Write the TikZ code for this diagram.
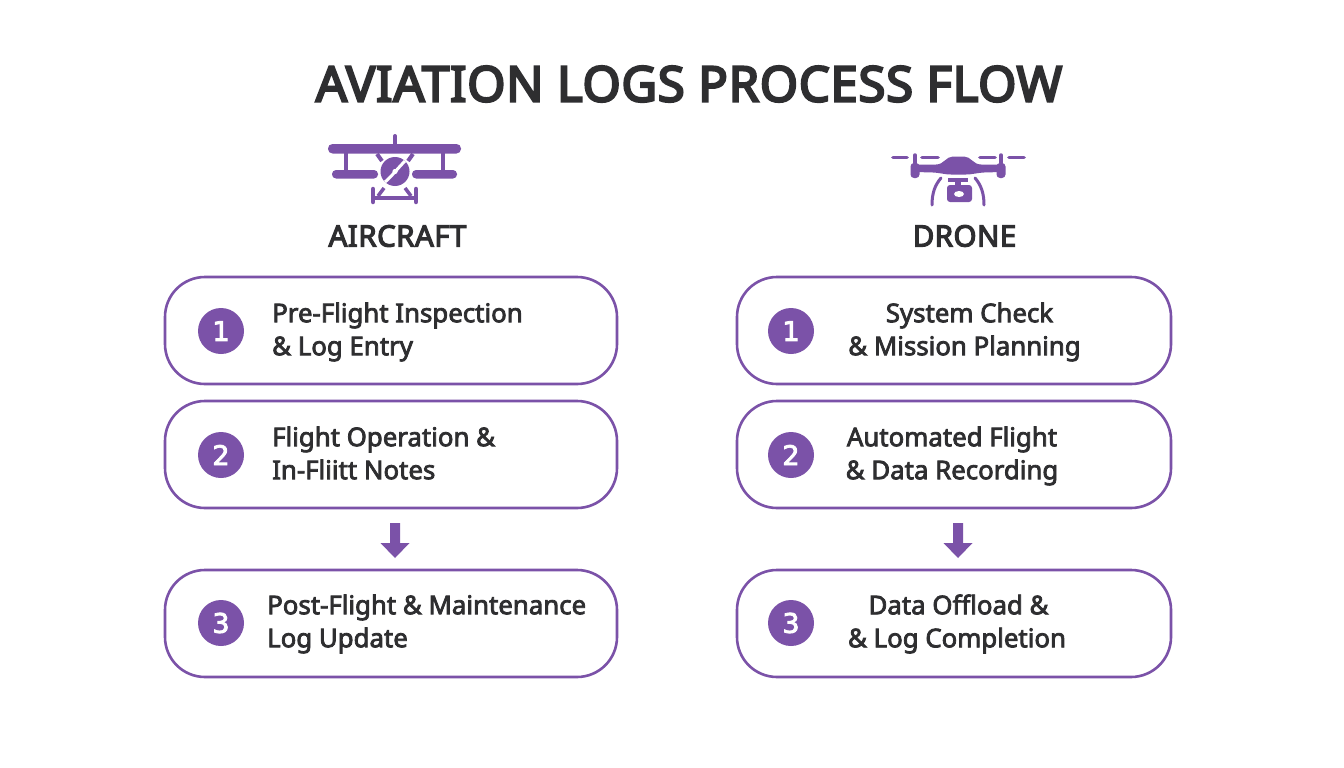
\documentclass[tikz,border=0pt]{standalone}
\usepackage{fontspec}
\setmainfont{Open Sans}
\newfontfamily\bodyf{Noto Sans}[FakeBold=3]
\newfontfamily\headf{Noto Sans}[FakeBold=4,LetterSpace=1.5]
\newfontfamily\titlef{Noto Sans}[FakeBold=4.5,LetterSpace=1.5]
\newfontfamily\digitf{DejaVu Sans}[FakeBold=3]
\definecolor{vio}{HTML}{7B52A8}
\definecolor{ink}{HTML}{2E2E30}
\tikzset{
 card/.style={draw=vio,line width=2.6pt,rounded corners=40pt,fill=white,minimum height=107pt,inner sep=0pt},
 badge/.style={circle,fill=vio,text=white,minimum size=46pt,inner sep=0pt,font=\digitf\fontsize{27}{27}\selectfont},
 lbl/.style={text=ink,inner sep=0pt,font=\bodyf\fontsize{25.8}{33}\selectfont},
 lbll/.style={lbl,align=left,anchor=west},
 lblc/.style={lbl,align=center},
 head/.style={text=ink,inner sep=0pt,font=\headf\fontsize{29.5}{28}\selectfont},
 ic/.style={draw=vio,line cap=round,line width=#1},
 ic/.default=3pt,
 blockarrow/.style={fill=vio,draw=none},
}
\begin{document}
\begin{tikzpicture}[x=1pt,y=-1pt]
\useasboundingbox (0,0) rectangle (1344,768);
\fill[white] (0,0) rectangle (1344,768);
\node[text=ink,inner sep=0pt,font=\titlef\fontsize{49}{49}\selectfont] (title) at (689,84) {AVIATION LOGS PROCESS FLOW};
% biplane icon
\draw[ic=4pt] (395,136) -- (395,146);
\fill[vio,rounded corners=4.5pt] (328,144) rectangle (461,153.5);
\fill[vio,rounded corners=4pt] (332,170) rectangle (378,178.5);
\fill[vio,rounded corners=4pt] (412,170) rectangle (457,178.5);
\draw[ic=3.5pt,line cap=butt] (346,153) -- (346,171);
\draw[ic=3.5pt,line cap=butt] (443,153) -- (443,171);
\draw[ic=4pt,line cap=butt] (377,154) -- (382,161);
\draw[ic=4pt,line cap=butt] (413,154) -- (408,161);
\fill[vio] (395,171.5) circle (14.5);
\draw[white,line width=3pt] (385,182) .. controls (392,176) and (398,168) .. (405,161);
\fill[white] (395,171.5) circle (2.6);
\draw[ic=4.5pt] (373,189) -- (373,202);
\draw[ic=4.5pt] (416,189) -- (416,202);
\draw[ic=3.5pt,line cap=butt] (373,198) -- (416,198);
\draw[ic=3.5pt,line cap=butt] (378,196) -- (384,188);
\draw[ic=3.5pt,line cap=butt] (411,196) -- (405,188);
\node[head] (hl) at (397.5,236) {AIRCRAFT};
% drone icon
\draw[ic=3.8pt] (893,157.5) -- (907,157.5);
\draw[ic=3.8pt] (922,157.5) -- (938,157.5);
\draw[ic=3.8pt] (980,157.5) -- (995,157.5);
\draw[ic=3.8pt] (1009,157.5) -- (1024,157.5);
\draw[ic=3.5pt] (915,155) -- (915,165);
\draw[ic=3.5pt] (1001,155) -- (1001,165);
\fill[vio,rounded corners=3.5pt] (910.5,163) rectangle (919.5,178);
\fill[vio,rounded corners=3.5pt] (996.5,163) rectangle (1005.5,178);
\fill[vio] (915,164.5) -- (936,164.5) .. controls (944,164.5) and (946,156.5) .. (953,156.5) -- (964,156.5) .. controls (971,156.5) and (973,164.5) .. (981,164.5) -- (1001,164.5) -- (1001,172) -- (984,172.5) .. controls (976,173) and (972,174.5) .. (966,174.5) -- (951,174.5) .. controls (945,174.5) and (941,173) .. (933,172.5) -- (915,172) -- cycle;
\draw[ic=3pt] (941,178) .. controls (935,185) and (932,193) .. (932,205);
\draw[ic=3pt] (975,178) .. controls (981,185) and (984,193) .. (984,205);
\fill[vio] (948,178) rectangle (968,181.5);
\fill[vio] (955,181) rectangle (961,186);
\fill[vio,rounded corners=3pt] (947,185) rectangle (972,202);
\fill[white] (959,194) ellipse (5 and 3);
\node[head] (hr) at (964.5,236) {DRONE};
% left cards
\node[card,minimum width=452pt] (a1) at (391,330.5) {};
\node[card,minimum width=452pt] (a2) at (391,454.5) {};
\node[card,minimum width=452pt] (a3) at (391,623.5) {};
\node[badge] (an1) at (221,331) {1};
\node[badge] (an2) at (221,455) {2};
\node[badge] (an3) at (221,623) {3};
\node[lbll] (at1) at (272,332) {Pre-Flight Inspection\\\& Log Entry};
\node[lbll] (at2) at (272,453) {Flight Operation \&\\In-Fliitt Notes};
\node[lbll] (at3) at (267,624) {Post-Flight \& Maintenance\\Log Update};
% right cards
\node[card,minimum width=434pt] (b1) at (954,330.5) {};
\node[card,minimum width=434pt] (b2) at (954,454.5) {};
\node[card,minimum width=434pt] (b3) at (954,623.5) {};
\node[badge] (bn1) at (791,331) {1};
\node[badge] (bn2) at (791,455) {2};
\node[badge] (bn3) at (791,623) {3};
\node[lblc] (bt1) at (964.5,332) {\hspace*{10pt}System Check\\\& Mission Planning};
\node[lblc] (bt2) at (952,456) {Automated Flight\\\& Data Recording};
\node[lblc] (bt3) at (957,624) {\hspace*{3pt}Data Offload \&\\\& Log Completion};
% arrows
\fill[blockarrow] (390,523) -- (400,523) -- (400,543) -- (409.5,543) -- (395,558) -- (380.5,543) -- (390,543) -- cycle;
\fill[blockarrow] (953,523) -- (963,523) -- (963,543) -- (972.5,543) -- (958,558) -- (943.5,543) -- (953,543) -- cycle;
\end{tikzpicture}
\end{document}
